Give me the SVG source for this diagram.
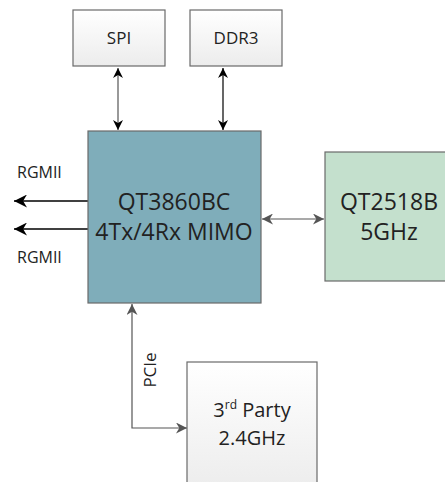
<svg xmlns="http://www.w3.org/2000/svg" width="445" height="482" viewBox="0 0 445 482">
<defs>
<linearGradient id="gw" x1="0" y1="0" x2="0" y2="1"><stop offset="0" stop-color="#ffffff"/><stop offset="1" stop-color="#ececec"/></linearGradient>
<marker id="ab" viewBox="0 0 10 10" refX="10" refY="5" markerWidth="10" markerHeight="10" markerUnits="userSpaceOnUse" orient="auto-start-reverse"><path d="M0,0 L10,5 L0,10 L3,5 z" fill="#000"/></marker>
<marker id="ag" viewBox="0 0 10 10" refX="10" refY="5" markerWidth="11" markerHeight="11" markerUnits="userSpaceOnUse" orient="auto-start-reverse"><path d="M0,0 L10,5 L0,10 L3,5 z" fill="#555"/></marker>
<marker id="ak" viewBox="0 0 10 10" refX="10" refY="5" markerWidth="13" markerHeight="13" markerUnits="userSpaceOnUse" orient="auto-start-reverse"><path d="M0,0 L10,5 L0,10 L3,5 z" fill="#000"/></marker>
</defs>
<style>
text{font-family:"Open Sans","Liberation Sans",sans-serif;fill:#222;text-anchor:middle}
.box{stroke:#6a6a6a;stroke-width:1.2}
.lbl{font-size:16px;text-anchor:start}
.big{font-size:23px}
.small{font-size:17px}
.third{font-size:20px}
</style>
<g id="connectors" fill="none">
<line x1="118" y1="68" x2="118" y2="130" stroke="#555" stroke-width="1.2" marker-start="url(#ab)" marker-end="url(#ab)"/>
<line x1="223" y1="68" x2="223" y2="130" stroke="#000" stroke-width="1.2" marker-start="url(#ab)" marker-end="url(#ab)"/>
<line x1="88" y1="201" x2="14" y2="201" stroke="#000" stroke-width="1.3" marker-end="url(#ak)"/>
<line x1="88" y1="229" x2="14" y2="229" stroke="#000" stroke-width="1.3" marker-end="url(#ak)"/>
<line x1="262" y1="219" x2="324" y2="219" stroke="#555" stroke-width="1.2" marker-start="url(#ag)" marker-end="url(#ag)"/>
<polyline points="132,304 132,428 187,428" stroke="#555" stroke-width="1.2" marker-start="url(#ag)" marker-end="url(#ag)"/>
</g>
<g id="spi"><rect class="box" x="73" y="10" width="92" height="56" fill="url(#gw)"/><text class="small" x="119" y="44">SPI</text></g>
<g id="ddr3"><rect class="box" x="190" y="10" width="92" height="56" fill="url(#gw)"/><text class="small" x="236" y="44">DDR3</text></g>
<g id="qt3860"><rect class="box" x="88" y="131" width="173" height="172" fill="#7fadba" stroke="#555"/><text class="big" x="174" y="210">QT3860BC</text><text class="big" x="174" y="240">4Tx/4Rx MIMO</text></g>
<g id="qt2518"><rect class="box" x="325" y="152" width="130" height="129" fill="#c4e0cd"/><text class="big" x="389" y="210">QT2518B</text><text class="big" x="389" y="240">5GHz</text></g>
<g id="third"><rect class="box" x="187" y="362" width="130" height="130" fill="url(#gw)"/><text class="third" x="252" y="417">3<tspan dy="-8" style="font-size:12px">rd</tspan><tspan dy="8"> Party</tspan></text><text class="third" x="252" y="445">2.4GHz</text></g>
<g id="labels">
<text class="lbl" x="17" y="178">RGMII</text>
<text class="lbl" x="17" y="263">RGMII</text>
<text class="small" transform="translate(156,370) rotate(-90)">PCIe</text>
</g>
</svg>
